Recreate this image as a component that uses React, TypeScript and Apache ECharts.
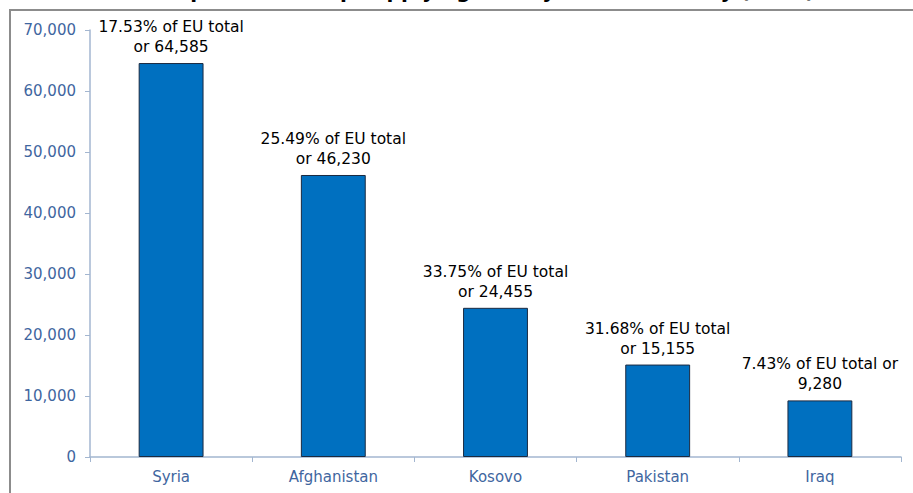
import React, { useEffect, useRef } from "react";
import * as echarts from "echarts";

const categories = ["Syria", "Afghanistan", "Kosovo", "Pakistan", "Iraq"];
const applicants = [64585, 46230, 24455, 15155, 9280];
const shareOfEU = ["17.53", "25.49", "33.75", "31.68", "7.43"];
const labelTexts = [
  "17.53% of EU total\nor 64,585",
  "25.49% of EU total\nor 46,230",
  "33.75% of EU total\nor 24,455",
  "31.68% of EU total\nor 15,155",
  "7.43% of EU total or\n9,280",
];
const yMin = 0;
const yMax = 70000;
const yInterval = 10000;
const titleText = "Top 5 citizenships applying for asylum in Germany (2015)";

export default function App() {
  const ref = useRef<HTMLDivElement>(null);
  useEffect(() => {
    if (!ref.current) return;
    const chart = echarts.init(ref.current, null, { renderer: "svg" });
    const font = "DejaVu Sans, Verdana, sans-serif";
    chart.setOption({
      animation: false,
      backgroundColor: "#ffffff",
      graphic: [
        {
          type: "rect",
          shape: { x: 10, y: 10, width: 1000, height: 1000 },
          style: { fill: "none", stroke: "#8c8c8c", lineWidth: 2 },
          silent: true,
        },
        {
          type: "text",
          x: 490,
          y: 0.5,
          style: {
            text: titleText,
            fill: "#000",
            font: "bold 20px " + font,
            align: "center",
            verticalAlign: "bottom",
          },
          silent: true,
        },
      ],
      grid: { left: 90, right: 12, top: 30, bottom: 36, containLabel: false },
      xAxis: {
        type: "category",
        data: categories,
        boundaryGap: true,
        axisLine: { lineStyle: { color: "#a3b6d0", width: 1.5 } },
        axisTick: { show: true, length: 5, alignWithLabel: false, lineStyle: { color: "#a3b6d0" } },
        axisLabel: { color: "#3f66a0", fontFamily: font, fontSize: 15, margin: 12 },
      },
      yAxis: {
        type: "value",
        min: yMin,
        max: yMax,
        interval: yInterval,
        splitLine: { show: false },
        axisLine: { show: true, lineStyle: { color: "#a3b6d0", width: 1.5 } },
        axisTick: { show: true, length: 5, lineStyle: { color: "#a3b6d0" } },
        axisLabel: {
          color: "#3f66a0",
          fontFamily: font,
          fontSize: 15,
          margin: 14,
          formatter: (v: number) => v.toLocaleString("en-US"),
        },
      },
      series: [
        {
          type: "bar",
          data: applicants.map((v, i) => ({ value: v, share: shareOfEU[i] })),
          barWidth: "40%",
          itemStyle: { color: "#0070c0", borderColor: "#1b2a40", borderWidth: 1 },
          label: {
            show: true,
            position: "top",
            distance: 6,
            color: "#000",
            fontFamily: font,
            fontSize: 15.5,
            lineHeight: 20,
            align: "center",
            formatter: (p: any) => labelTexts[p.dataIndex],
          },
        },
      ],
    });
    return () => chart.dispose();
  }, []);
  return (
    <div
      ref={ref}
      style={{ position: "fixed", left: 0, top: 0, width: 913, height: 493 }}
    />
  );
}
